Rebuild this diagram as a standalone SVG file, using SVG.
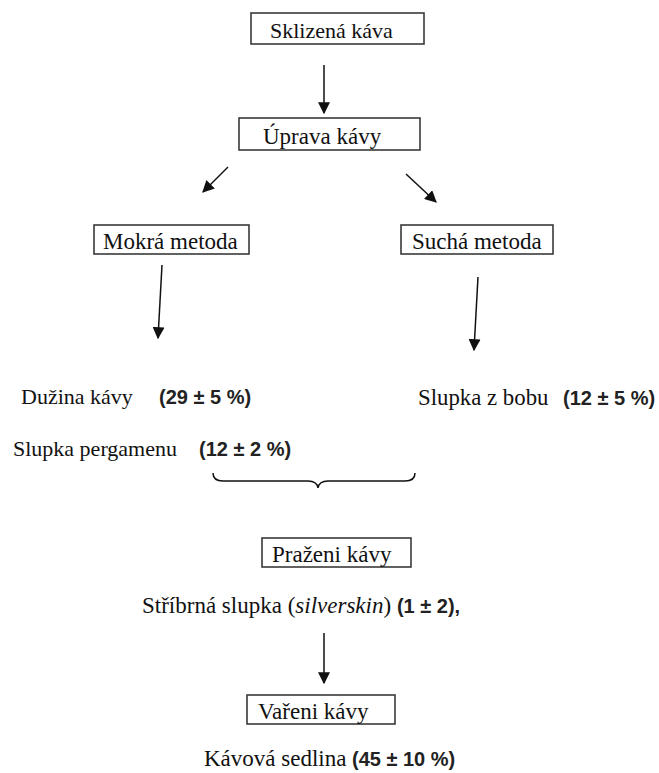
<svg xmlns="http://www.w3.org/2000/svg" width="659" height="773" viewBox="0 0 659 773">
<defs>
<style>
.box{fill:#fff;stroke:#3a3a3a;stroke-width:1.6}
.t{font-family:"Liberation Serif","Times New Roman",serif;font-size:22px;fill:#111}
.b{font-family:"Liberation Sans",Arial,sans-serif;font-size:20px;font-weight:bold;fill:#222}
.c{stroke:#111;stroke-width:1.5;fill:none}
</style>
<marker id="ah" viewBox="0 0 10 10" refX="9" refY="5" markerWidth="12" markerHeight="12" markerUnits="userSpaceOnUse" orient="auto">
<path d="M0,0 L10,5 L0,10 z" fill="#111"/>
</marker>
</defs>
<rect width="659" height="773" fill="#fff"/>
<g id="connectors">
<line class="c" x1="324" y1="65" x2="324" y2="113" marker-end="url(#ah)"/>
<line class="c" x1="228" y1="167" x2="203" y2="192" marker-end="url(#ah)"/>
<line class="c" x1="406" y1="174" x2="436" y2="202" marker-end="url(#ah)"/>
<line class="c" x1="162" y1="265" x2="158" y2="338" marker-end="url(#ah)"/>
<line class="c" x1="478" y1="277" x2="474" y2="350" marker-end="url(#ah)"/>
<path class="c" stroke-width="1.3" d="M213,473 Q213,481 223,481 L308,481 Q317,481 318,488 Q319,481 328,481 L405,481 Q415,481 415,473"/>
<line class="c" x1="324" y1="633" x2="324" y2="683" marker-end="url(#ah)"/>
</g>
<g id="sklizena">
<rect class="box" x="251" y="13" width="173" height="31"/>
<text class="t" x="270" y="38">Sklizená káva</text>
</g>
<g id="uprava">
<rect class="box" x="239" y="118" width="181" height="32"/>
<text class="t" x="263" y="144" style="font-size:23px">Úprava kávy</text>
</g>
<g id="mokra">
<rect class="box" x="94" y="225" width="155" height="29"/>
<text class="t" x="103" y="249" style="font-size:23px">Mokrá metoda</text>
</g>
<g id="sucha">
<rect class="box" x="401" y="225" width="152" height="29"/>
<text class="t" x="412" y="249" style="font-size:23px">Suchá metoda</text>
</g>
<g id="duzina">
<text class="t" x="21" y="404">Dužina kávy</text>
<text class="b" x="159" y="404">(29 ± 5 %)</text>
</g>
<g id="pergamen">
<text class="t" x="13" y="456">Slupka pergamenu</text>
<text class="b" x="199" y="456">(12 ± 2 %)</text>
</g>
<g id="bob">
<text class="t" x="418" y="405" style="font-size:22.8px">Slupka z bobu</text>
<text class="b" x="563" y="405">(12 ± 5 %)</text>
</g>
<g id="prazeni">
<rect class="box" x="262" y="538" width="149" height="29"/>
<text class="t" x="272" y="562" style="font-size:23px">Praženi kávy</text>
</g>
<g id="stribrna">
<text class="t" x="142" y="613" style="font-size:23px">Stříbrná slupka (<tspan font-style="italic">silverskin</tspan>) <tspan class="b">(1 ± 2),</tspan></text>
</g>
<g id="vareni">
<rect class="box" x="247" y="695" width="148" height="29"/>
<text class="t" x="258" y="719" style="font-size:23px">Vařeni kávy</text>
</g>
<g id="sedlina">
<text class="t" x="204" y="766" style="font-size:23px">Kávová sedlina</text>
<text class="b" x="352" y="766">(45 ± 10 %)</text>
</g>
</svg>
